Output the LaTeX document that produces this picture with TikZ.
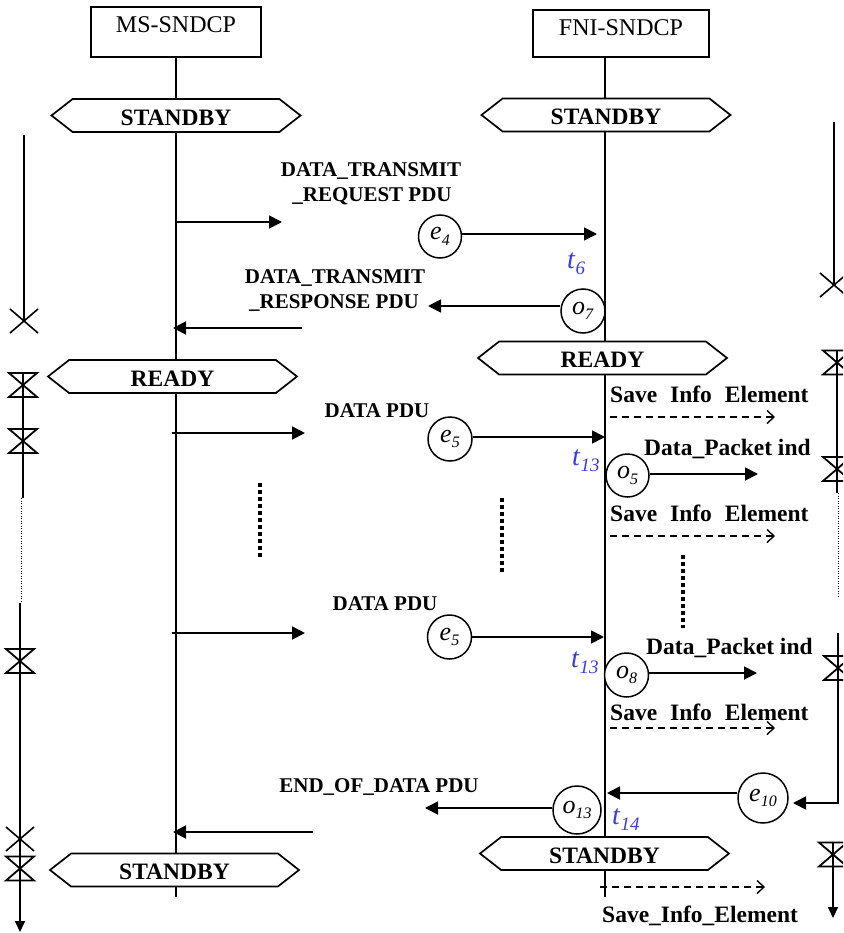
\documentclass[tikz,border=0pt]{standalone}
\usepackage{fontspec}
\setmainfont{Liberation Serif}
\usetikzlibrary{arrows.meta,shapes.symbols}
\definecolor{tblue}{RGB}{60,60,220}
\newcommand\subl[3]{\textit{#1}\raisebox{-0.22em}{\fontsize{#3}{#3}\selectfont\textit{#2}}}
\begin{document}
\begin{tikzpicture}[x=1pt,y=-1pt,
  lifeline/.style={line width=1.8pt},
  boxnode/.style={draw, line width=1.6pt, font=\fontsize{24}{26}\selectfont, inner sep=0pt},
  statenode/.style={signal, signal to=east and west, signal pointer angle=76, draw, fill=white, line width=1.7pt, minimum width=249pt, minimum height=33pt, inner sep=0pt, text height=19.6pt, text depth=0pt, font=\fontsize{23.5}{26}\selectfont\bfseries},
  evt/.style={circle, draw, fill=white, line width=1.5pt, minimum size=44pt, inner sep=0pt, font=\fontsize{26}{28}\selectfont},
  msg/.style={line width=1.8pt, -{Triangle[length=13pt,width=13pt]}},
  dsh/.style={line width=1.4pt, dash pattern=on 7pt off 5pt, -{Straight Barb[length=7pt,width=13pt,line width=1.4pt]}},
  lbl/.style={font=\fontsize{21}{23}\selectfont\bfseries, inner sep=0pt, anchor=base},
  lblb/.style={font=\fontsize{23.5}{25}\selectfont\bfseries, inner sep=0pt, anchor=base west},
  tlbl/.style={font=\fontsize{28}{30}\selectfont, text=tblue, inner sep=0pt, anchor=base west},
  bigdots/.style={line width=3.5pt, dash pattern=on 3.5pt off 3.5pt},
  thindots/.style={line width=0.9pt, dash pattern=on 1pt off 1.5pt},
  side/.style={line width=1.8pt},
  sidearrow/.style={line width=1.8pt, -{Triangle[length=11pt,width=10pt]}},
  bowtie/.pic={\draw[line width=1.8pt] (-14,-12) -- (14,-12) -- (-14,12) -- (14,12) -- cycle;},
  xmark/.pic={\draw[line width=1.6pt] (-14,-12) -- (14,12) (14,-12) -- (-14,12);}
]
\useasboundingbox (0,0) rectangle (843,933);
\clip (0,0) rectangle (843,933);

% boxes
\node[boxnode, minimum width=170pt, minimum height=50pt, text height=16pt, text depth=14pt] (msbox) at (176,32) {MS-SNDCP};
\node[boxnode, minimum width=176pt, minimum height=47pt, text height=16pt, text depth=11pt] (fnibox) at (621,33.5) {FNI-SNDCP};

% lifelines
\coordinate (msend) at (176,897);
\coordinate (fniend) at (605,897);
\draw[lifeline] (msbox.south) -- (msend);
\draw[lifeline] (fnibox.south -| fniend) -- (fniend);

% states
\node[statenode] (ms1) at (176,115.5) {STANDBY};
\node[statenode] (fni1) at (606,115) {STANDBY};
\node[statenode] (ms2) at (172.5,376.5) {READY};
\node[statenode] (fni2) at (602.5,358) {READY};
\node[statenode] (ms3) at (174.5,870) {STANDBY};
\node[statenode] (fni3) at (604.5,853.5) {STANDBY};

% coordinates for message ends
\coordinate (a1s) at (176,222); \coordinate (a1e) at (282,222);
\coordinate (t6p) at (597,234);
\coordinate (r1) at (428,306);
\coordinate (r2s) at (302,328); \coordinate (r2e) at (173,328);
\coordinate (d1s) at (172,433); \coordinate (d1e) at (305,433);
\coordinate (p1) at (605,437);
\coordinate (q1) at (758,474);
\coordinate (s1s) at (610,417); \coordinate (s1e) at (775,417);
\coordinate (s2s) at (610,536); \coordinate (s2e) at (775,536);
\coordinate (d2s) at (172,633); \coordinate (d2e) at (305,633);
\coordinate (p2) at (604,637);
\coordinate (q2) at (757,673);
\coordinate (s3s) at (610,728); \coordinate (s3e) at (775,728);
\coordinate (p3) at (607,793);
\coordinate (rr5) at (838,633); \coordinate (rrc) at (838,803); \coordinate (eIn) at (793,803);
\coordinate (p4) at (425,808);
\coordinate (r3s) at (313,832); \coordinate (r3e) at (173,832);
\coordinate (s4s) at (600,887); \coordinate (s4e) at (765,887);

% circles
\node[evt, minimum size=43pt] (e4) at (440,236.5) {\subl{e}{4}{16}};
\node[evt] (o7) at (583,311) {\subl{o}{7}{16}};
\node[evt] (e5a) at (450,439) {\subl{e}{5}{16}};
\node[evt, minimum size=43pt] (o5) at (627.5,475.5) {\subl{o}{5}{16}};
\node[evt] (e5b) at (449.5,637) {\subl{e}{5}{16}};
\node[evt] (o8) at (626.5,675) {\subl{o}{8}{16}};
\node[evt, minimum size=50pt] (e10) at (763,798) {\subl{e}{10}{16}};
\node[evt, minimum size=48pt] (o13) at (577,810) {\subl{o}{13}{16}};

% messages
\draw[msg] (a1s) -- (a1e);
\draw[msg] (e4.east |- t6p) -- (t6p);
\draw[msg] (o7.west |- r1) -- (r1);
\draw[msg] (r2s) -- (r2e);
\draw[msg] (d1s) -- (d1e);
\draw[msg] (e5a.east |- p1) -- (p1);
\draw[msg] (o5.east |- q1) -- (q1);
\draw[dsh] (s1s) -- (s1e);
\draw[dsh] (s2s) -- (s2e);
\draw[msg] (d2s) -- (d2e);
\draw[msg] (e5b.east |- p2) -- (p2);
\draw[msg] (o8.east |- q2) -- (q2);
\draw[dsh] (s3s) -- (s3e);
\draw[msg] (e10.west |- p3) -- (p3);
\draw[msg] (rr5) -- (rrc) -- (eIn);
\draw[msg] (o13.west |- p4) -- (p4);
\draw[msg] (r3s) -- (r3e);
\draw[dsh] (s4s) -- (s4e);

% labels
\node[lbl] (rq1) at (371,177) {DATA\_TRANSMIT};
\node[lbl] (rq2) at (372,202) {\_REQUEST PDU};
\node[lbl] (rs1) at (335,283) {DATA\_TRANSMIT};
\node[lbl] (rs2) at (334,308) {\_RESPONSE PDU};
\node[lbl] (dp1) at (377,417) {DATA PDU};
\node[lbl] (dp2) at (385,610) {DATA PDU};
\node[lbl] (eod) at (379,792) {END\_OF\_DATA PDU};
\node[lblb] (si1) at (610,402) {Save\hspace{13pt}Info\hspace{13pt}Element};
\node[lblb] (dpi1) at (644,455) {Data\_Packet ind};
\node[lblb] (si2) at (610,521) {Save\hspace{13pt}Info\hspace{13pt}Element};
\node[lblb] (dpi2) at (646,654) {Data\_Packet ind};
\node[lblb] (si3) at (610,720) {Save\hspace{13pt}Info\hspace{13pt}Element};
\node[lblb] (si4) at (602,922) {Save\_Info\_Element};
\node[tlbl] (t6) at (567,268) {\subl{t}{6}{19}};
\node[tlbl] (t13a) at (572,465) {\subl{t}{13}{19}};
\node[tlbl] (t13b) at (571,667) {\subl{t}{13}{19}};
\node[tlbl] (t14) at (612,824) {\subl{t}{14}{19}};

% big dotted continuation marks
\draw[bigdots] (260,483) -- (260,557);
\draw[bigdots] (502,498) -- (502,572);
\draw[bigdots] (683,555) -- (683,628);

% left timer line
\draw[side] (24,135) -- (24,321);
\pic at (24,321) {xmark};
\draw[side] (23,373) -- (23,498);
\pic at (23,385) {bowtie};
\pic at (23,441) {bowtie};
\draw[thindots] (21,498) -- (21,603);
\draw[sidearrow] (20,603) -- (20,932);
\pic at (20,661) {bowtie};
\pic at (20,839) {xmark};
\pic at (20,868.5) {bowtie};

% right timer line
\draw[side] (834,122) -- (834,285);
\pic at (834,285) {xmark};
\draw[side] (837,351) -- (837,493);
\pic at (837,362.5) {bowtie};
\pic at (837,469) {bowtie};
\draw[thindots] (838,493) -- (838,598);
\pic at (838,668) {bowtie};
\draw[sidearrow] (833,842) -- (833,918);
\pic at (833,854.5) {bowtie};
\end{tikzpicture}
\end{document}
